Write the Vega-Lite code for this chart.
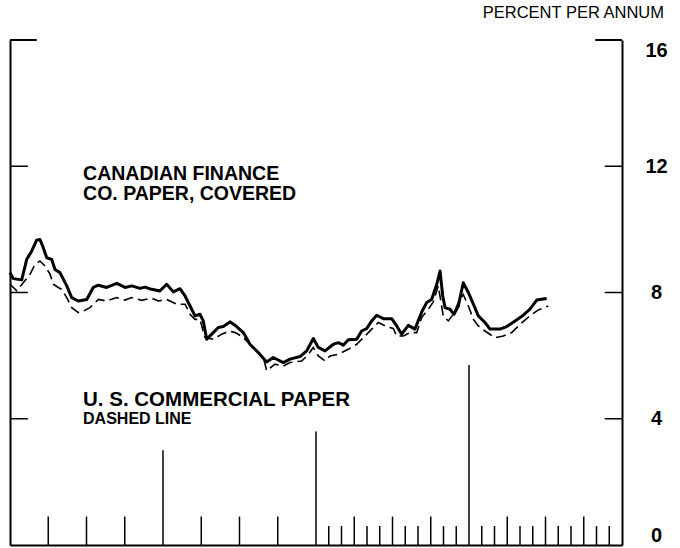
{
  "$schema": "https://vega.github.io/schema/vega-lite/v6.json",
  "width": 612,
  "height": 505,
  "autosize": "none",
  "padding": {"left": 10, "top": 40, "right": 58, "bottom": 3},
  "background": "white",
  "config": {"view": {"stroke": null}, "font": "Liberation Sans"},
  "title": {"text": "PERCENT PER ANNUM", "anchor": "end", "frame": "group", "dx": 42, "offset": 18, "fontSize": 16.5, "fontWeight": "normal", "color": "black", "font": "Liberation Sans"},
  "datasets": {
    "cfc": [
      {"m": 0, "v": 8.63}, {"m": 0.26, "v": 8.44}, {"m": 0.92, "v": 8.40}, {"m": 1.31, "v": 9.05}, {"m": 1.70, "v": 9.31},
      {"m": 2.09, "v": 9.66}, {"m": 2.35, "v": 9.68}, {"m": 2.61, "v": 9.42}, {"m": 2.88, "v": 9.10}, {"m": 3.27, "v": 9.05},
      {"m": 3.53, "v": 8.73}, {"m": 3.92, "v": 8.63}, {"m": 4.45, "v": 8.21}, {"m": 4.84, "v": 7.84}, {"m": 5.36, "v": 7.73},
      {"m": 6.02, "v": 7.78}, {"m": 6.53, "v": 8.16}, {"m": 6.93, "v": 8.23}, {"m": 7.58, "v": 8.16}, {"m": 8.37, "v": 8.29},
      {"m": 9.02, "v": 8.16}, {"m": 9.55, "v": 8.21}, {"m": 10.20, "v": 8.13}, {"m": 10.59, "v": 8.17}, {"m": 11.11, "v": 8.10},
      {"m": 11.76, "v": 8.05}, {"m": 12.29, "v": 8.26}, {"m": 12.81, "v": 8.02}, {"m": 13.33, "v": 8.12}, {"m": 13.73, "v": 7.89},
      {"m": 14.25, "v": 7.47}, {"m": 14.51, "v": 7.26}, {"m": 14.90, "v": 7.31}, {"m": 15.16, "v": 7.10}, {"m": 15.43, "v": 6.52},
      {"m": 15.82, "v": 6.68}, {"m": 16.34, "v": 6.89}, {"m": 16.73, "v": 6.92}, {"m": 17.25, "v": 7.07}, {"m": 17.78, "v": 6.92},
      {"m": 18.30, "v": 6.73}, {"m": 18.82, "v": 6.36}, {"m": 19.47, "v": 6.10}, {"m": 20.13, "v": 5.80}, {"m": 20.65, "v": 5.94},
      {"m": 21.44, "v": 5.78}, {"m": 21.96, "v": 5.89}, {"m": 22.75, "v": 5.97}, {"m": 23.27, "v": 6.15}, {"m": 23.79, "v": 6.54},
      {"m": 24.18, "v": 6.26}, {"m": 24.71, "v": 6.15}, {"m": 25.36, "v": 6.36}, {"m": 25.75, "v": 6.41}, {"m": 26.14, "v": 6.33},
      {"m": 26.53, "v": 6.50}, {"m": 27.19, "v": 6.52}, {"m": 27.58, "v": 6.78}, {"m": 27.98, "v": 6.86}, {"m": 28.37, "v": 7.10},
      {"m": 28.76, "v": 7.28}, {"m": 29.28, "v": 7.17}, {"m": 29.94, "v": 7.17}, {"m": 30.33, "v": 6.94}, {"m": 30.72, "v": 6.68},
      {"m": 31.24, "v": 6.96}, {"m": 31.76, "v": 6.84}, {"m": 32.29, "v": 7.38}, {"m": 32.68, "v": 7.68}, {"m": 33.07, "v": 7.78},
      {"m": 33.47, "v": 8.26}, {"m": 33.73, "v": 8.68}, {"m": 33.94, "v": 7.89}, {"m": 34.12, "v": 7.52}, {"m": 34.51, "v": 7.47},
      {"m": 34.82, "v": 7.31}, {"m": 35.16, "v": 7.57}, {"m": 35.55, "v": 8.31}, {"m": 35.95, "v": 8.00}, {"m": 36.34, "v": 7.63},
      {"m": 36.73, "v": 7.26}, {"m": 37.25, "v": 7.05}, {"m": 37.65, "v": 6.84}, {"m": 38.43, "v": 6.84}, {"m": 38.96, "v": 6.92},
      {"m": 39.61, "v": 7.10}, {"m": 40.26, "v": 7.28}, {"m": 40.78, "v": 7.47}, {"m": 41.31, "v": 7.76}, {"m": 42.09, "v": 7.81}
    ],
    "uscp": [
      {"m": 0, "v": 8.26}, {"m": 0.53, "v": 8.05}, {"m": 1.04, "v": 8.31}, {"m": 1.57, "v": 8.58}, {"m": 1.96, "v": 8.89},
      {"m": 2.35, "v": 9.00}, {"m": 2.75, "v": 8.84}, {"m": 3.14, "v": 8.58}, {"m": 3.40, "v": 8.26}, {"m": 3.79, "v": 8.16},
      {"m": 4.05, "v": 8.10}, {"m": 4.45, "v": 7.84}, {"m": 4.84, "v": 7.52}, {"m": 5.36, "v": 7.36}, {"m": 5.75, "v": 7.41},
      {"m": 6.27, "v": 7.52}, {"m": 6.93, "v": 7.78}, {"m": 7.58, "v": 7.73}, {"m": 8.37, "v": 7.84}, {"m": 9.02, "v": 7.76},
      {"m": 9.55, "v": 7.84}, {"m": 10.33, "v": 7.75}, {"m": 11.11, "v": 7.82}, {"m": 11.63, "v": 7.73}, {"m": 12.29, "v": 7.78},
      {"m": 13.07, "v": 7.63}, {"m": 13.73, "v": 7.63}, {"m": 14.12, "v": 7.31}, {"m": 14.51, "v": 7.15}, {"m": 14.90, "v": 7.15},
      {"m": 15.29, "v": 6.57}, {"m": 15.95, "v": 6.52}, {"m": 16.60, "v": 6.68}, {"m": 17.25, "v": 6.78}, {"m": 17.78, "v": 6.71},
      {"m": 18.30, "v": 6.57}, {"m": 19.08, "v": 6.26}, {"m": 19.87, "v": 5.94}, {"m": 20.13, "v": 5.52}, {"m": 20.78, "v": 5.73},
      {"m": 21.44, "v": 5.67}, {"m": 21.96, "v": 5.78}, {"m": 22.88, "v": 5.83}, {"m": 23.40, "v": 6.04}, {"m": 23.79, "v": 6.26},
      {"m": 24.18, "v": 5.99}, {"m": 24.71, "v": 5.83}, {"m": 25.10, "v": 5.99}, {"m": 25.75, "v": 6.04}, {"m": 26.53, "v": 6.20},
      {"m": 27.19, "v": 6.36}, {"m": 27.84, "v": 6.62}, {"m": 28.37, "v": 6.84}, {"m": 28.89, "v": 7.05}, {"m": 29.55, "v": 6.92},
      {"m": 30.06, "v": 6.86}, {"m": 30.33, "v": 6.62}, {"m": 30.85, "v": 6.62}, {"m": 31.37, "v": 6.73}, {"m": 31.90, "v": 6.73},
      {"m": 32.29, "v": 7.21}, {"m": 32.81, "v": 7.47}, {"m": 33.20, "v": 7.70}, {"m": 33.59, "v": 8.21}, {"m": 33.98, "v": 7.26},
      {"m": 34.38, "v": 7.10}, {"m": 34.77, "v": 7.31}, {"m": 35.16, "v": 7.68}, {"m": 35.55, "v": 7.94}, {"m": 35.95, "v": 7.57},
      {"m": 36.34, "v": 7.15}, {"m": 36.73, "v": 6.94}, {"m": 37.25, "v": 6.78}, {"m": 38.04, "v": 6.57}, {"m": 38.69, "v": 6.62},
      {"m": 39.35, "v": 6.73}, {"m": 40.00, "v": 6.99}, {"m": 40.78, "v": 7.26}, {"m": 41.44, "v": 7.45}, {"m": 42.22, "v": 7.57}
    ],
    "months": [
      {"m": 3, "lo": 0, "h": 0.9}, {"m": 6, "lo": 0, "h": 0.9}, {"m": 9, "lo": 0, "h": 0.9}, {"m": 12, "lo": 0, "h": 3.0},
      {"m": 15, "lo": 0, "h": 0.9}, {"m": 18, "lo": 0, "h": 0.9}, {"m": 21, "lo": 0, "h": 0.9}, {"m": 24, "lo": 0, "h": 3.6},
      {"m": 25, "lo": 0, "h": 0.6}, {"m": 26, "lo": 0, "h": 0.6}, {"m": 27, "lo": 0, "h": 0.9}, {"m": 28, "lo": 0, "h": 0.6}, {"m": 29, "lo": 0, "h": 0.6}, {"m": 30, "lo": 0, "h": 0.9},
      {"m": 31, "lo": 0, "h": 0.6}, {"m": 32, "lo": 0, "h": 0.6}, {"m": 33, "lo": 0, "h": 0.9}, {"m": 34, "lo": 0, "h": 0.6}, {"m": 35, "lo": 0, "h": 0.6}, {"m": 36, "lo": 0, "h": 5.7},
      {"m": 37, "lo": 0, "h": 0.6}, {"m": 38, "lo": 0, "h": 0.6}, {"m": 39, "lo": 0, "h": 0.9}, {"m": 40, "lo": 0, "h": 0.6}, {"m": 41, "lo": 0, "h": 0.6}, {"m": 42, "lo": 0, "h": 0.9},
      {"m": 43, "lo": 0, "h": 0.6}, {"m": 44, "lo": 0, "h": 0.6}, {"m": 45, "lo": 0, "h": 0.9}, {"m": 46, "lo": 0, "h": 0.6}, {"m": 47, "lo": 0, "h": 0.6}
    ],
    "gridvals": [{"v": 4}, {"v": 8}, {"v": 12}],
    "topval": [{"v": 16}],
    "cfcnote": [
      {"m": 5.73, "v": 11.57, "t": "CANADIAN FINANCE"},
      {"m": 5.73, "v": 10.93, "t": "CO. PAPER,  COVERED"}
    ],
    "usnote": [
      {"m": 5.73, "v": 4.40, "t": "U. S.  COMMERCIAL PAPER"}
    ],
    "smallnotes": [
      {"m": 5.73, "v": 3.83, "t": "DASHED LINE"}
    ]
  },
  "layer": [
    {
      "data": {"name": "cfc"},
      "mark": {"type": "line", "color": "black", "strokeWidth": 3, "strokeJoin": "round"},
      "encoding": {
        "x": {"field": "m", "type": "quantitative", "scale": {"domain": [0, 48], "nice": false, "zero": false},
              "axis": {"domain": true, "domainWidth": 2, "domainColor": "black", "ticks": false, "labels": false, "grid": false, "title": null}},
        "y": {"field": "v", "type": "quantitative", "scale": {"domain": [0, 16], "nice": false},
              "axis": {"orient": "left", "values": [4, 8, 12, 16], "domainWidth": 2, "domainColor": "black", "ticks": false,
                       "labels": false, "grid": false, "title": null}}
      }
    },
    {
      "data": {"name": "uscp"},
      "mark": {"type": "line", "color": "black", "strokeWidth": 1.6, "strokeDash": [10, 5]},
      "encoding": {
        "x": {"field": "m", "type": "quantitative"},
        "y": {"field": "v", "type": "quantitative",
              "axis": {"orient": "right", "values": [0, 4, 8, 12, 16], "domainWidth": 2, "domainColor": "black", "ticks": false,
                       "labelPadding": 34,
                       "labelAlign": "center", "labelFontSize": 20, "labelFontWeight": "bold", "labelColor": "black", "labelFont": "Liberation Sans",
                       "labelFlush": true, "grid": false, "title": null}}
      }
    },
    {
      "data": {"name": "months"},
      "mark": {"type": "rule", "color": "black", "strokeWidth": 1.5},
      "encoding": {
        "x": {"field": "m", "type": "quantitative"},
        "y": {"field": "lo", "type": "quantitative", "axis": null},
        "y2": {"field": "h"}
      }
    },
    {
      "data": {"name": "gridvals"},
      "mark": {"type": "rule", "color": "black", "strokeWidth": 1.5},
      "encoding": {
        "x": {"datum": 0, "type": "quantitative"},
        "x2": {"datum": 1.4},
        "y": {"field": "v", "type": "quantitative", "axis": null}
      }
    },
    {
      "data": {"name": "gridvals"},
      "mark": {"type": "rule", "color": "black", "strokeWidth": 1.5},
      "encoding": {
        "x": {"datum": 46.65, "type": "quantitative"},
        "x2": {"datum": 48},
        "y": {"field": "v", "type": "quantitative", "axis": null}
      }
    },
    {
      "data": {"name": "topval"},
      "mark": {"type": "rule", "color": "black", "strokeWidth": 2},
      "encoding": {
        "x": {"datum": 0, "type": "quantitative"},
        "x2": {"datum": 2.1},
        "y": {"field": "v", "type": "quantitative", "axis": null}
      }
    },
    {
      "data": {"name": "topval"},
      "mark": {"type": "rule", "color": "black", "strokeWidth": 2},
      "encoding": {
        "x": {"datum": 45.9, "type": "quantitative"},
        "x2": {"datum": 48},
        "y": {"field": "v", "type": "quantitative", "axis": null}
      }
    },
    {
      "data": {"name": "cfcnote"},
      "mark": {"type": "text", "align": "left", "baseline": "alphabetic", "fontSize": 19.5, "fontWeight": "bold", "font": "Liberation Sans", "color": "black"},
      "encoding": {
        "x": {"field": "m", "type": "quantitative"},
        "y": {"field": "v", "type": "quantitative", "axis": null},
        "text": {"field": "t"}
      }
    },
    {
      "data": {"name": "usnote"},
      "mark": {"type": "text", "align": "left", "baseline": "alphabetic", "fontSize": 20.5, "fontWeight": "bold", "font": "Liberation Sans", "color": "black"},
      "encoding": {
        "x": {"field": "m", "type": "quantitative"},
        "y": {"field": "v", "type": "quantitative", "axis": null},
        "text": {"field": "t"}
      }
    },
    {
      "data": {"name": "smallnotes"},
      "mark": {"type": "text", "align": "left", "baseline": "alphabetic", "fontSize": 16, "fontWeight": "bold", "font": "Liberation Sans", "color": "black"},
      "encoding": {
        "x": {"field": "m", "type": "quantitative"},
        "y": {"field": "v", "type": "quantitative", "axis": null},
        "text": {"field": "t"}
      }
    }
  ],
  "resolve": {"axis": {"y": "independent"}}
}
